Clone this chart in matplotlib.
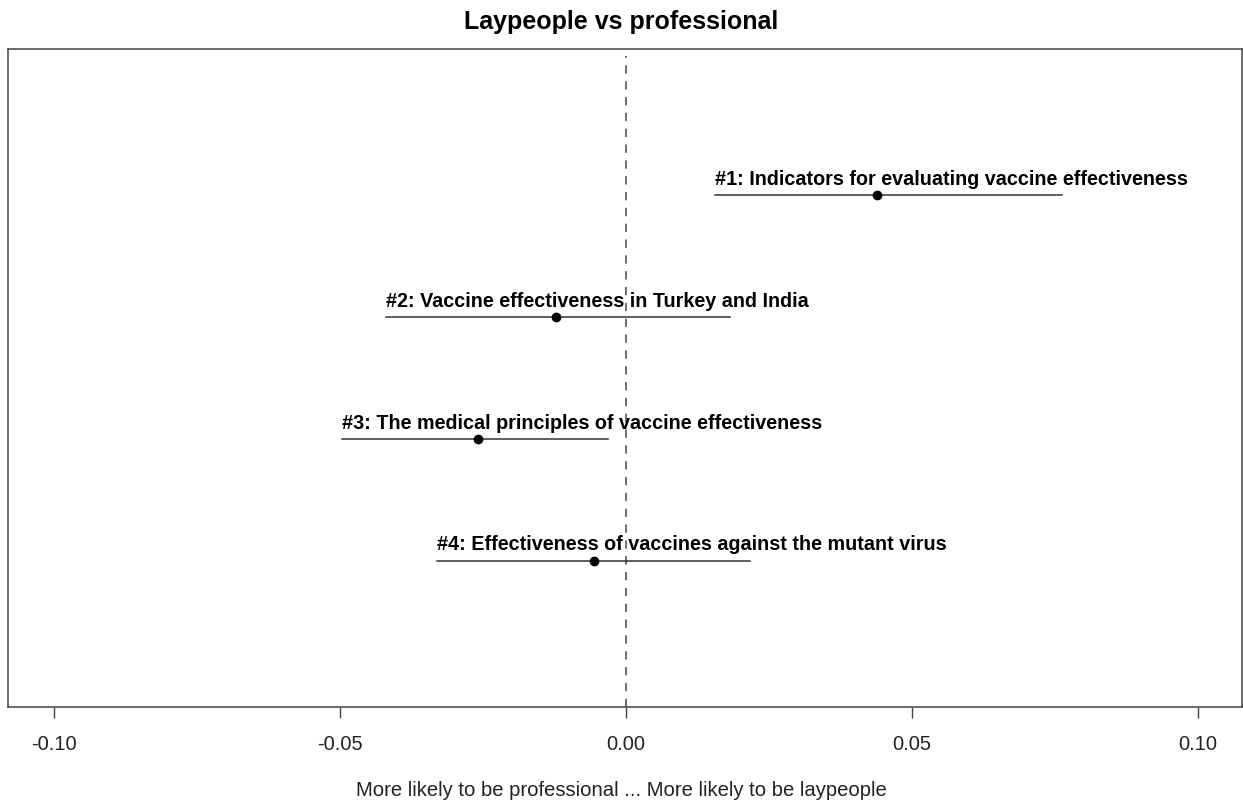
import matplotlib
matplotlib.use("Agg")
import matplotlib.pyplot as plt

# Estimated differences with confidence intervals per topic
labels = [
    "#1: Indicators for evaluating vaccine effectiveness",
    "#2: Vaccine effectiveness in Turkey and India",
    "#3: The medical principles of vaccine effectiveness",
    "#4: Effectiveness of vaccines against the mutant virus",
]
estimate = [0.0439, -0.0122, -0.0259, -0.0056]
ci_low = [0.0156, -0.0420, -0.0497, -0.0330]
ci_high = [0.0762, 0.0182, -0.0031, 0.0217]
rows = [4, 3, 2, 1]
xticks = [-0.10, -0.05, 0.00, 0.05, 0.10]

plt.rcParams["font.family"] = ["Liberation Sans", "DejaVu Sans"]

W, H = 1243, 806
fig = plt.figure(figsize=(W / 100, H / 100), dpi=100)
ax = fig.add_axes([8 / W, 1 - 707 / H, (1242 - 8) / W, (707 - 49) / H])

line_col = "#333333"
ax.axvline(0, ymin=0.0, ymax=0.99, color="#555555", lw=1.2,
           linestyle=(0, (5, 4.5)), zorder=1)

for y, est, lo, hi, lab in zip(rows, estimate, ci_low, ci_high, labels):
    ax.plot([lo, hi], [y, y], color=line_col, lw=1.1, zorder=2)
    ax.plot(est, y, "o", color="black", ms=6, zorder=3)
    ax.text(lo, y + 0.085, lab, ha="left", va="baseline",
            fontsize=14.2, fontweight="bold", color="black", zorder=4)

ax.set_xlim(-0.108, 0.1077)
ax.set_ylim(-0.2, 5.2)
ax.set_yticks([])
ax.set_xticks(xticks)
ax.set_xticklabels([f"{t:.2f}" for t in xticks], fontsize=14.5, color="#222222")
ax.tick_params(axis="x", length=8, width=1, color="#444444", pad=12)
for s in ax.spines.values():
    s.set_color("#444444")
    s.set_linewidth(1.1)

fig.text(0.5, 1 - 22 / H, "Laypeople vs professional", ha="center",
         va="center", fontsize=18, fontweight="bold")
fig.text(0.5, 1 - 791 / H,
         "More likely to be professional ... More likely to be laypeople",
         ha="center", va="center", fontsize=14.6, color="#222222")

fig.savefig("out.png", dpi=100, facecolor="white")
